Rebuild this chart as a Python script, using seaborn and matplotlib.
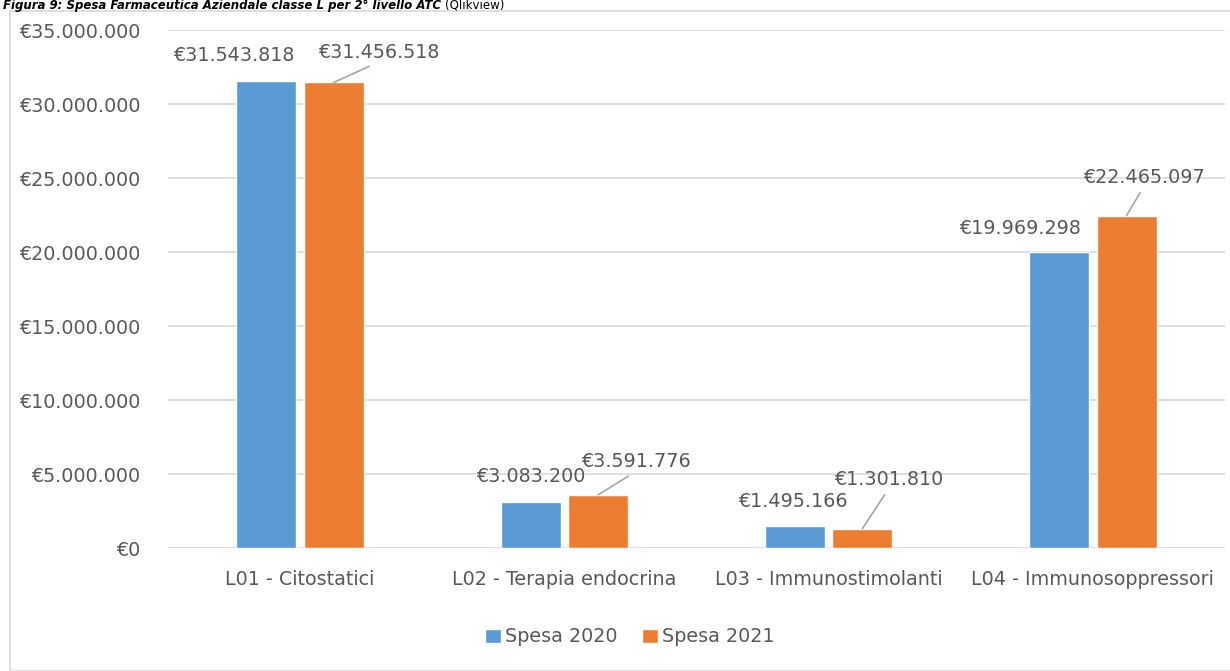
import pandas as pd
import numpy as np
import matplotlib.pyplot as plt
import matplotlib.patches as mpatches
import seaborn as sns

# data
categorie = ["L01 - Citostatici", "L02 - Terapia endocrina",
             "L03 - Immunostimolanti", "L04 - Immunosoppressori"]
spesa_2020 = [31543818, 3083200, 1495166, 19969298]
spesa_2021 = [31456518, 3591776, 1301810, 22465097]
serie = ["Spesa 2020", "Spesa 2021"]
y_ticks = [0, 5000000, 10000000, 15000000, 20000000, 25000000, 30000000, 35000000]

df = pd.DataFrame({
    "categoria": categorie * 2,
    "serie": [serie[0]] * 4 + [serie[1]] * 4,
    "valore": spesa_2020 + spesa_2021,
})

def euro(v):
    return "€" + f"{int(v):,}".replace(",", ".")

sns.set_style("white")
plt.rcParams["font.family"] = ["DejaVu Sans"]
testo = "#595959"
fs = 13.8

fig = plt.figure(figsize=(12.3, 6.71), dpi=100)
ax = fig.add_axes([168 / 1230, 1 - 548 / 671, (1225 - 168) / 1230, (548 - 30) / 671])

# chart border
fig.patches.append(mpatches.Rectangle((10 / 1230, 0), 1.2, 1 - 11 / 671, transform=fig.transFigure,
                                      fill=False, edgecolor="#d9d9d9", linewidth=1.2))

# title at the very top
t1 = fig.text(3 / 1230, 1 - 9 / 671, "Figura 9: Spesa Farmaceutica Aziendale classe L per 2° livello ATC ",
              fontsize=8.5, fontweight="bold", style="italic", va="baseline", ha="left", color="black")
fig.canvas.draw()
bb = t1.get_window_extent()
fig.text(bb.x1 / 1230, 1 - 9 / 671, "(Qlikview)", fontsize=8.5, va="baseline", ha="left", color="black")

sns.barplot(data=df, x="categoria", y="valore", hue="serie", order=categorie, hue_order=serie,
            palette=["#5b9bd5", "#ed7d31"], saturation=1, width=0.51, gap=0.11, ax=ax, legend=True)

ax.set_ylim(0, 35000000)
ax.set_xlim(-0.5, 3.5)
ax.set_yticks(y_ticks)
ax.set_yticklabels([euro(t) for t in y_ticks], fontsize=fs, color=testo)
ax.tick_params(axis="both", length=0)
ax.tick_params(axis="y", pad=20)
ax.tick_params(axis="x", pad=16)
ax.set_xticklabels(categorie, fontsize=fs, color=testo)
ax.set_xlabel("")
ax.set_ylabel("")
ax.grid(axis="y", color="#d9d9d9", linewidth=1.2)
ax.set_axisbelow(True)
for s in ax.spines.values():
    s.set_visible(False)

# data labels
off_2020 = [(-33, 26), (0, 26), (-2, 24), (-39, 24)]
off_2021 = [(45, 30), (38, 33), (26, 49), (17, 38)]
for bar, v, (dx, dy) in zip(ax.containers[0], spesa_2020, off_2020):
    x = bar.get_x() + bar.get_width() / 2
    ax.annotate(euro(v), xy=(x, bar.get_height()), xytext=(dx, dy), textcoords="offset pixels",
                ha="center", va="center", fontsize=fs, color=testo)
for bar, v, (dx, dy) in zip(ax.containers[1], spesa_2021, off_2021):
    x = bar.get_x() + bar.get_width() / 2
    ax.annotate(euro(v), xy=(x, bar.get_height()), xytext=(dx, dy), textcoords="offset pixels",
                ha="center", va="center", fontsize=fs, color=testo,
                arrowprops=dict(arrowstyle="-", color="#a6a6a6", lw=1.2,
                                shrinkA=2, shrinkB=0, relpos=(0.5, 0.0)))

leg = ax.legend(loc="center", bbox_to_anchor=(630 / 1230, 1 - 637 / 671),
                bbox_transform=fig.transFigure, ncol=2, frameon=False, fontsize=fs,
                handlelength=0.8, handleheight=0.8, handletextpad=0.22, columnspacing=1.3)
for t in leg.get_texts():
    t.set_color(testo)

fig.savefig("out.png", dpi=100)
